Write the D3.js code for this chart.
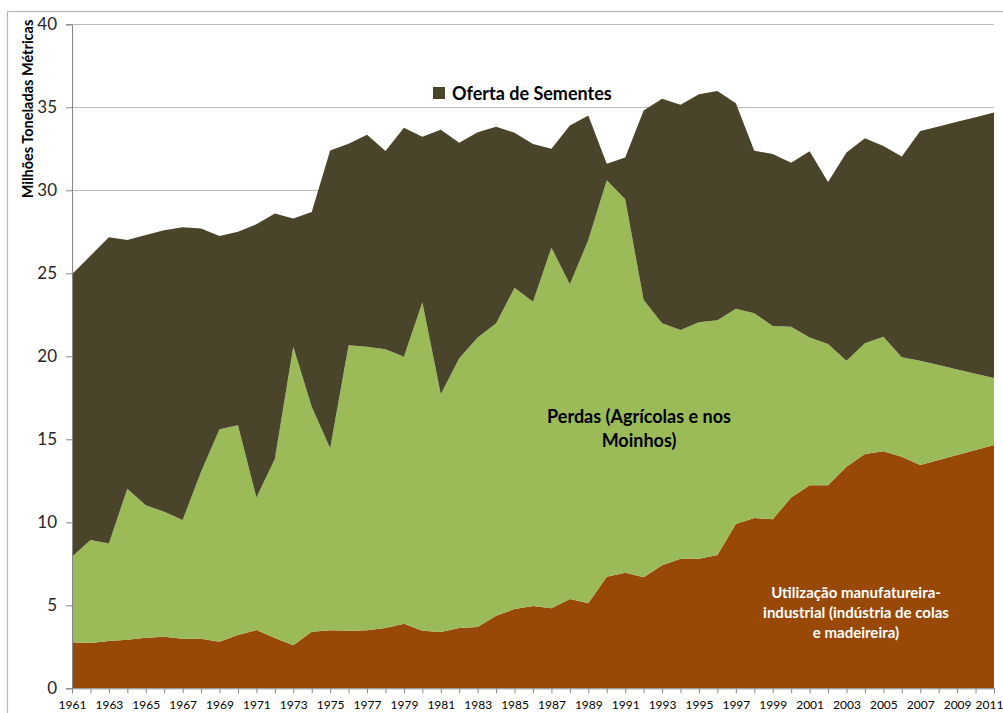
<!DOCTYPE html>
<html>
<head>
<meta charset="utf-8">
<script src="https://cdn.jsdelivr.net/npm/d3@7/dist/d3.min.js"></script>
<style>
  html, body { margin: 0; padding: 0; background: #fff; }
  svg { display: block; font-family: Lato, "Open Sans", sans-serif; }
</style>
</head>
<body>
<svg id="chart" width="1003" height="713"></svg>
<script>
// Anos
const years = d3.range(1961, 2012);

// Utilização manufatureira-industrial (milhões t)
const industrial = [
  2.77, 2.73, 2.85, 2.93, 3.05, 3.11, 2.99, 2.99, 2.81, 3.21,
  3.51, 3.03, 2.59, 3.41, 3.49, 3.47, 3.49, 3.63, 3.89, 3.47,
  3.39, 3.63, 3.69, 4.37, 4.78, 4.96, 4.82, 5.38, 5.12, 6.72,
  6.96, 6.69, 7.41, 7.81, 7.81, 8.03, 9.90, 10.26, 10.18, 11.50,
  12.23, 12.23, 13.35, 14.11, 14.28, 13.95, 13.45, 13.75, 14.05, 14.35,
  14.66
];

// Perdas (agrícolas e nos moinhos)
const perdas = [
  5.16, 6.20, 5.88, 9.09, 7.97, 7.53, 7.15, 10.06, 12.79, 12.63,
  7.99, 10.78, 17.99, 13.55, 10.97, 17.19, 17.09, 16.79, 16.09, 19.78,
  14.32, 16.25, 17.45, 17.62, 19.35, 18.33, 21.72, 18.96, 21.88, 23.88,
  22.50, 16.70, 14.58, 13.77, 14.24, 14.14, 12.97, 12.33, 11.65, 10.28,
  8.91, 8.51, 6.38, 6.67, 6.90, 5.99, 6.28, 5.72, 5.16, 4.60,
  4.03
];

// Oferta de sementes
const sementes = [
  17.01, 17.13, 18.44, 14.98, 16.28, 16.96, 17.63, 14.65, 11.65, 11.66,
  16.45, 14.79, 7.72, 11.74, 17.94, 12.14, 12.77, 11.95, 13.79, 9.98,
  15.94, 12.99, 12.35, 11.84, 9.34, 9.50, 5.96, 9.56, 7.50, 1.00,
  2.52, 11.41, 13.53, 13.58, 13.73, 13.81, 12.37, 9.80, 10.36, 9.88,
  11.21, 9.76, 12.54, 12.35, 11.49, 12.09, 13.84, 14.38, 14.92, 15.45,
  15.99
];

const yTicks = [0, 5, 10, 15, 20, 25, 30, 35, 40];
const xTickLabels = d3.range(1961, 2012, 2);

const seriesKeys = ["industrial", "perdas", "sementes"];
const colors = { industrial: "#984807", perdas: "#9BBB59", sementes: "#4A452A" };

const rows = years.map((yr, i) => ({
  year: yr, industrial: industrial[i], perdas: perdas[i], sementes: sementes[i]
}));

const svg = d3.select("#chart");
const plotLeft = 72, plotRight = 994, plotTop = 24.3, plotBottom = 688.3;

const x = d3.scaleLinear().domain([1961, 2011]).range([plotLeft, plotRight]);
const y = d3.scaleLinear().domain([0, 40]).range([plotBottom, plotTop]);

// Moldura da área do gráfico
svg.append("rect")
  .attr("x", 7.5).attr("y", 11.5).attr("width", 1010).attr("height", 720)
  .attr("fill", "none").attr("stroke", "#B8B8B8").attr("stroke-width", 1.2);

// Linhas de grade horizontais
svg.append("g").selectAll("line")
  .data(yTicks.filter(d => d > 0))
  .join("line")
  .attr("x1", plotLeft).attr("x2", plotRight)
  .attr("y1", d => Math.round(y(d)) + 0.5).attr("y2", d => Math.round(y(d)) + 0.5)
  .attr("stroke", "#BDBDBD").attr("stroke-width", 1);

// Áreas empilhadas
const stacked = d3.stack().keys(seriesKeys)(rows);
const area = d3.area()
  .x(d => x(d.data.year))
  .y0(d => y(d[0]))
  .y1(d => y(d[1]));

svg.append("g").selectAll("path")
  .data(stacked)
  .join("path")
  .attr("d", area)
  .attr("fill", d => colors[d.key]);

// Eixo Y
const yAxis = d3.axisLeft(y).tickValues(yTicks).tickSize(6).tickPadding(9);
const gy = svg.append("g").attr("transform", `translate(${plotLeft},0)`).call(yAxis);
gy.select(".domain").attr("stroke", "#868686");
gy.selectAll(".tick line").attr("stroke", "#868686");
gy.selectAll(".tick text")
  .attr("font-family", "Lato, sans-serif")
  .attr("font-size", 17).attr("fill", "#262626");

// Eixo X
const xAxis = d3.axisBottom(x).tickValues(years).tickSize(5).tickPadding(7)
  .tickFormat(d => xTickLabels.includes(d) ? String(d) : "");
const gx = svg.append("g").attr("transform", `translate(0,${plotBottom})`).call(xAxis);
gx.select(".domain").attr("stroke", "#868686");
gx.selectAll(".tick line").attr("stroke", "#868686");
gx.selectAll(".tick text")
  .attr("font-family", "Lato, sans-serif")
  .attr("font-size", 12).attr("fill", "#000");
// o último rótulo encosta na margem direita
gx.selectAll(".tick text").filter(d => d === 2011).attr("dx", -5);

// Título do eixo Y
svg.append("text")
  .attr("transform", "translate(33,109) rotate(-90)")
  .attr("text-anchor", "middle")
  .attr("font-size", 14.5).attr("font-weight", 700).attr("fill", "#000")
  .text("Milhões Toneladas Métricas");

// Legenda: Oferta de Sementes
svg.append("rect")
  .attr("x", 433).attr("y", 87).attr("width", 12).attr("height", 12)
  .attr("fill", colors.sementes);
svg.append("text")
  .attr("x", 452).attr("y", 100)
  .attr("font-size", 18).attr("font-weight", 700).attr("fill", "#000")
  .text("Oferta de Sementes");

// Rótulo: Perdas
const perdasLabel = svg.append("text")
  .attr("text-anchor", "middle")
  .attr("font-size", 18).attr("font-weight", 700).attr("fill", "#000");
perdasLabel.append("tspan").attr("x", 639).attr("y", 423).text("Perdas (Agrícolas e nos");
perdasLabel.append("tspan").attr("x", 639).attr("y", 447).text("Moinhos)");

// Rótulo: Utilização industrial
const indLabel = svg.append("text")
  .attr("text-anchor", "middle")
  .attr("font-size", 15).attr("font-weight", 700).attr("fill", "#fff");
indLabel.append("tspan").attr("x", 856).attr("y", 598).text("Utilização manufatureira-");
indLabel.append("tspan").attr("x", 856).attr("y", 618).text("industrial (indústria de colas");
indLabel.append("tspan").attr("x", 856).attr("y", 638).text("e madeireira)");
</script>
</body>
</html>
